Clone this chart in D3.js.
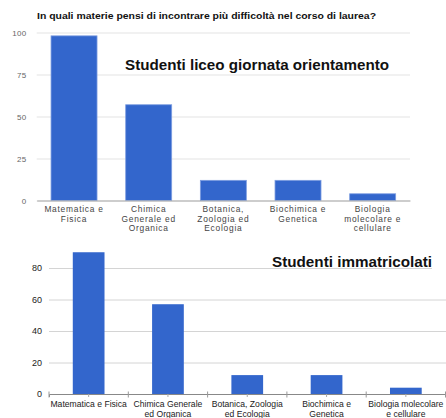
<!DOCTYPE html>
<html>
<head>
<meta charset="utf-8">
<script src="https://cdn.jsdelivr.net/npm/d3@7"></script>
<style>
  html, body { margin: 0; padding: 0; background: #fff; }
  svg { display: block; font-family: "Liberation Sans", Arial, sans-serif; }
</style>
</head>
<body>
<svg id="chart" width="446" height="418"></svg>
<script>
// ---- Data ----
const categories = ["Matematica e Fisica", "Chimica Generale ed Organica", "Botanica, Zoologia ed Ecologia", "Biochimica e Genetica", "Biologia molecolare e cellulare"];
const liceoValues = [98, 57, 12, 12, 4];
const immatricolatiValues = [90, 57, 12, 12, 4];
const topTickLabels = [["Matematica e", "Fisica"], ["Chimica", "Generale ed", "Organica"], ["Botanica,", "Zoologia ed", "Ecologia"], ["Biochimica e", "Genetica"], ["Biologia", "molecolare e", "cellulare"]];
const bottomTickLabels = [["Matematica e Fisica"], ["Chimica Generale", "ed Organica"], ["Botanica, Zoologia", "ed Ecologia"], ["Biochimica e", "Genetica"], ["Biologia molecolare", "e cellulare"]];
const topYTicks = [0, 25, 50, 75, 100];
const bottomYTicks = [0, 20, 40, 60, 80];
const chartTitle = "In quali materie pensi di incontrare più difficoltà nel corso di laurea?";
const topSubtitle = "Studenti liceo giornata orientamento";
const bottomSubtitle = "Studenti immatricolati";

const svg = d3.select("#chart");
const BLUE = "#3366cc";

// ================= TOP CHART =================
const t = { left: 36.7, right: 410, top: 32.5, bottom: 200.5 };
const xTop = d3.scaleBand().domain(categories).range([t.left, t.right]).paddingInner(0.384).paddingOuter(0.192);
const yTop = d3.scaleLinear().domain([0, 100]).range([t.bottom, t.top]);

svg.append("text")
  .attr("x", 37).attr("y", 18.5)
  .attr("font-size", 8.3).attr("font-weight", "bold").attr("fill", "#111")
  .attr("textLength", 339).attr("lengthAdjust", "spacingAndGlyphs")
  .text(chartTitle);

const gyTop = svg.append("g").attr("transform", `translate(${t.left},0)`)
  .call(d3.axisLeft(yTop).tickValues(topYTicks).tickSize(-(t.right - t.left)).tickPadding(10));
gyTop.select(".domain").remove();
gyTop.selectAll(".tick line").attr("stroke", "#e3e3e3").attr("stroke-width", 1);
gyTop.selectAll(".tick text").attr("font-size", 8).attr("fill", "#666")
  .attr("font-family", "Liberation Sans, Arial, sans-serif").attr("letter-spacing", 0.4);

// subtitle
svg.append("text")
  .attr("x", 125).attr("y", 69.5)
  .attr("font-size", 15).attr("font-weight", "bold").attr("fill", "#111")
  .attr("textLength", 264).attr("lengthAdjust", "spacingAndGlyphs")
  .text(topSubtitle);

svg.append("g").selectAll("rect").data(categories).join("rect")
  .attr("x", d => xTop(d)).attr("width", xTop.bandwidth())
  .attr("y", (d, i) => yTop(liceoValues[i]))
  .attr("height", (d, i) => yTop(0) - yTop(liceoValues[i]))
  .attr("fill", BLUE).attr("stroke", "#7d9de0").attr("stroke-width", 0.8);

const gxTop = svg.append("g").attr("transform", `translate(0,${t.bottom})`)
  .call(d3.axisBottom(xTop).tickSize(0).tickPadding(0).tickFormat(""));
gxTop.select(".domain").attr("stroke", "#aaa").attr("stroke-width", 1.2);
gxTop.selectAll(".tick").each(function (d, i) {
  const txt = d3.select(this).select("text")
    .attr("font-size", 8.4).attr("fill", "#444").attr("letter-spacing", 0.75)
    .attr("font-family", "Liberation Sans, Arial, sans-serif")
    .attr("y", 0).attr("dy", null);
  topTickLabels[i].forEach((line, k) => {
    txt.append("tspan").attr("x", 0).attr("y", 11.5 + k * 9.6).text(line);
  });
});

// ================= BOTTOM CHART =================
const b = { left: 49, right: 446, top: 236.5, bottom: 394 };
const xBot = d3.scaleBand().domain(categories).range([b.left, 445.5]).paddingInner(0.6).paddingOuter(0.3);
const yBot = d3.scaleLinear().domain([0, 100]).range([b.bottom, b.top]);

const gyBot = svg.append("g").attr("transform", `translate(${b.left},0)`)
  .call(d3.axisLeft(yBot).tickValues(bottomYTicks).tickSize(-(b.right - b.left)).tickPadding(7));
gyBot.select(".domain").remove();
gyBot.selectAll(".tick line").attr("stroke", "#d4d4d4").attr("stroke-width", 1);
gyBot.selectAll(".tick text").attr("font-size", 9).attr("fill", "#222")
  .attr("font-family", "Liberation Sans, Arial, sans-serif");

// subtitle with white backing (covers gridline end like the original)
svg.append("rect").attr("x", 432).attr("y", 262).attr("width", 14).attr("height", 10).attr("fill", "#fff");
svg.append("text")
  .attr("x", 272).attr("y", 266.5)
  .attr("font-size", 15).attr("font-weight", "bold").attr("fill", "#111")
  .attr("textLength", 160).attr("lengthAdjust", "spacingAndGlyphs")
  .text(bottomSubtitle);

svg.append("g").selectAll("rect").data(categories).join("rect")
  .attr("x", d => xBot(d)).attr("width", xBot.bandwidth())
  .attr("y", (d, i) => yBot(immatricolatiValues[i]))
  .attr("height", (d, i) => yBot(0) - yBot(immatricolatiValues[i]))
  .attr("fill", BLUE);

const gxBot = svg.append("g").attr("transform", `translate(0,${b.bottom})`)
  .call(d3.axisBottom(xBot).tickSize(3).tickPadding(0).tickFormat(""));
gxBot.select(".domain").attr("stroke", "#888").attr("stroke-width", 1);
gxBot.selectAll(".tick line").attr("stroke", "#aaa");
// band boundary ticks
const boundaries = categories.map(c => xBot(c) - xBot.step() * xBot.paddingInner() / 2).concat([445.5]);
gxBot.selectAll(".bound").data(boundaries).join("line").attr("class", "bound")
  .attr("x1", d => d).attr("x2", d => d).attr("y1", -2.5).attr("y2", 3.5)
  .attr("stroke", "#999").attr("stroke-width", 1);
gxBot.selectAll(".tick").each(function (d, i) {
  const txt = d3.select(this).select("text")
    .attr("font-size", 8.6).attr("fill", "#222")
    .attr("font-family", "Liberation Sans, Arial, sans-serif")
    .attr("y", 0).attr("dy", null);
  bottomTickLabels[i].forEach((line, k) => {
    txt.append("tspan").attr("x", 0).attr("y", 13 + k * 9.8).text(line);
  });
});
</script>
</body>
</html>
